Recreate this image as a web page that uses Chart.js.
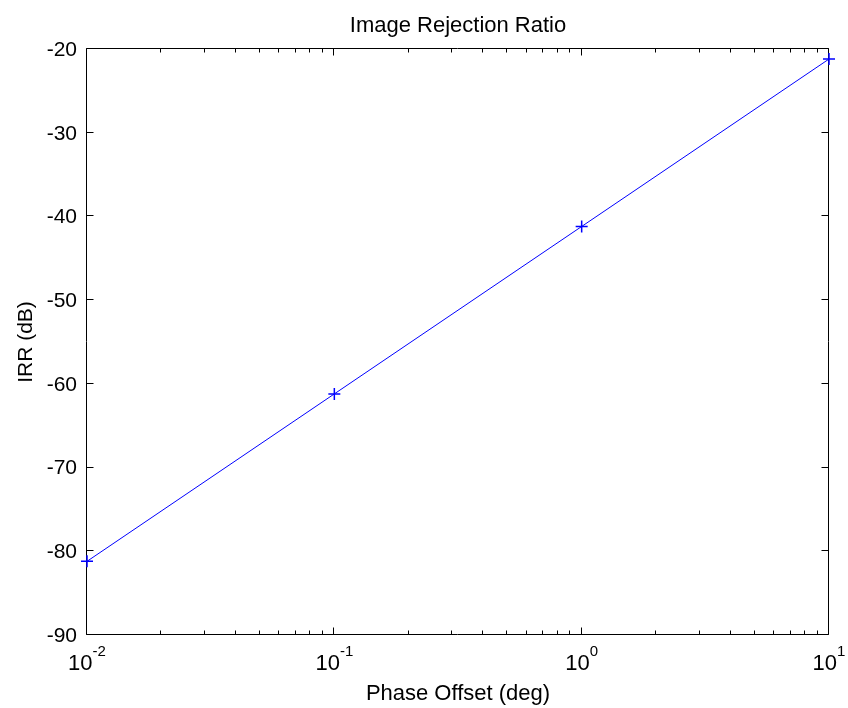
<!DOCTYPE html>
<html>
<head>
<meta charset="utf-8">
<title>Image Rejection Ratio</title>
<script src="https://cdn.jsdelivr.net/npm/chart.js@4.4.1/dist/chart.umd.min.js"></script>
<style>
  html, body { margin: 0; padding: 0; background: #fff; }
  canvas { display: block; }
</style>
</head>
<body>
<canvas id="irr-chart" width="848" height="708"></canvas>
<script>
// phase offset (deg) vs image rejection ratio (dB)
const phaseOffsets = [0.01, 0.1, 1, 10];
const irrValues = [-81.2, -61.2, -41.2, -21.2];

const yTicks = [-90, -80, -70, -60, -50, -40, -30, -20];
const xDecades = [0.01, 0.1, 1, 10];
const xExponents = ['-2', '-1', '0', '1'];
const minorSteps = [2, 3, 4, 5, 6, 7, 8, 9];

const titleText = 'Image Rejection Ratio';
const xTitle = 'Phase Offset (deg)';
const yTitle = 'IRR (dB)';

const FONT = '"Liberation Sans", Arial, Helvetica, sans-serif';

// matlab style box with inward ticks, drawn from the chart's own scales
const matlabAxes = {
    id: 'matlabAxes',
    beforeDatasetsDraw(chart) {
        const { ctx, chartArea: a } = chart;
        const x = chart.scales.x, y = chart.scales.y;
        const L = Math.round(a.left) - 0.5, R = Math.round(a.right) - 0.5;
        const T = Math.round(a.top) - 0.5, B = Math.round(a.bottom) - 0.5;

        ctx.save();
        ctx.strokeStyle = '#000';
        ctx.lineWidth = 1;
        ctx.beginPath();
        ctx.rect(L, T, R - L, B - T);

        yTicks.forEach(v => {
            const py = Math.round(y.getPixelForValue(v)) - 0.5;
            ctx.moveTo(L, py); ctx.lineTo(L + 7, py);
            ctx.moveTo(R, py); ctx.lineTo(R - 7, py);
        });
        xDecades.forEach(v => {
            const px = Math.round(x.getPixelForValue(v)) - 0.5;
            ctx.moveTo(px, B); ctx.lineTo(px, B - 7);
            ctx.moveTo(px, T); ctx.lineTo(px, T + 7);
        });
        xDecades.slice(0, -1).forEach(d => {
            minorSteps.forEach(m => {
                const px = Math.round(x.getPixelForValue(d * m)) - 0.5;
                ctx.moveTo(px, B); ctx.lineTo(px, B - 4);
                ctx.moveTo(px, T); ctx.lineTo(px, T + 4);
            });
        });
        ctx.stroke();

        ctx.fillStyle = '#000';
        ctx.font = '21px ' + FONT;
        ctx.textAlign = 'right';
        ctx.textBaseline = 'middle';
        yTicks.forEach(v => {
            ctx.fillText(String(v), a.left - 10, y.getPixelForValue(v) + 1);
        });

        ctx.textBaseline = 'alphabetic';
        ctx.textAlign = 'left';
        xDecades.forEach((v, i) => {
            ctx.font = '22px ' + FONT;
            const baseW = ctx.measureText('10').width;
            ctx.font = '15px ' + FONT;
            const expW = ctx.measureText(xExponents[i]).width;
            const start = x.getPixelForValue(v) - (baseW + expW) / 2;
            ctx.font = '22px ' + FONT;
            ctx.fillText('10', start, a.bottom + 35);
            ctx.font = '15px ' + FONT;
            ctx.fillText(xExponents[i], start + baseW, a.bottom + 21);
        });
        ctx.restore();
    },
    afterDraw(chart) {
        const { ctx, chartArea: a } = chart;
        const cx = (a.left + a.right) / 2;
        const cy = (a.top + a.bottom) / 2;
        ctx.save();
        ctx.fillStyle = '#000';
        ctx.font = '22px ' + FONT;
        ctx.textAlign = 'center';
        ctx.textBaseline = 'alphabetic';
        ctx.fillText(titleText, cx, 32);
        ctx.fillText(xTitle, cx, 700);
        ctx.font = '21px ' + FONT;
        ctx.translate(32, cy);
        ctx.rotate(-Math.PI / 2);
        ctx.fillText(yTitle, 0, 0);
        ctx.restore();
    }
};

new Chart(document.getElementById('irr-chart'), {
    type: 'line',
    data: {
        datasets: [{
            label: 'IRR',
            data: phaseOffsets.map((p, i) => ({ x: p, y: irrValues[i] })),
            borderColor: '#0000ff',
            backgroundColor: '#0000ff',
            borderWidth: 1,
            pointStyle: 'cross',
            pointRadius: 6,
            pointBorderWidth: 1.5,
            pointHoverRadius: 6,
            tension: 0,
            fill: false,
            clip: false
        }]
    },
    options: {
        responsive: false,
        animation: false,
        events: [],
        layout: { padding: { left: 87, top: 49, right: 19, bottom: 73 } },
        scales: {
            x: { type: 'logarithmic', min: 0.01, max: 10, display: false },
            y: { type: 'linear', min: -90, max: -20, display: false }
        },
        plugins: {
            legend: { display: false },
            title: { display: false },
            tooltip: { enabled: false }
        }
    },
    plugins: [matlabAxes]
});
</script>
</body>
</html>
